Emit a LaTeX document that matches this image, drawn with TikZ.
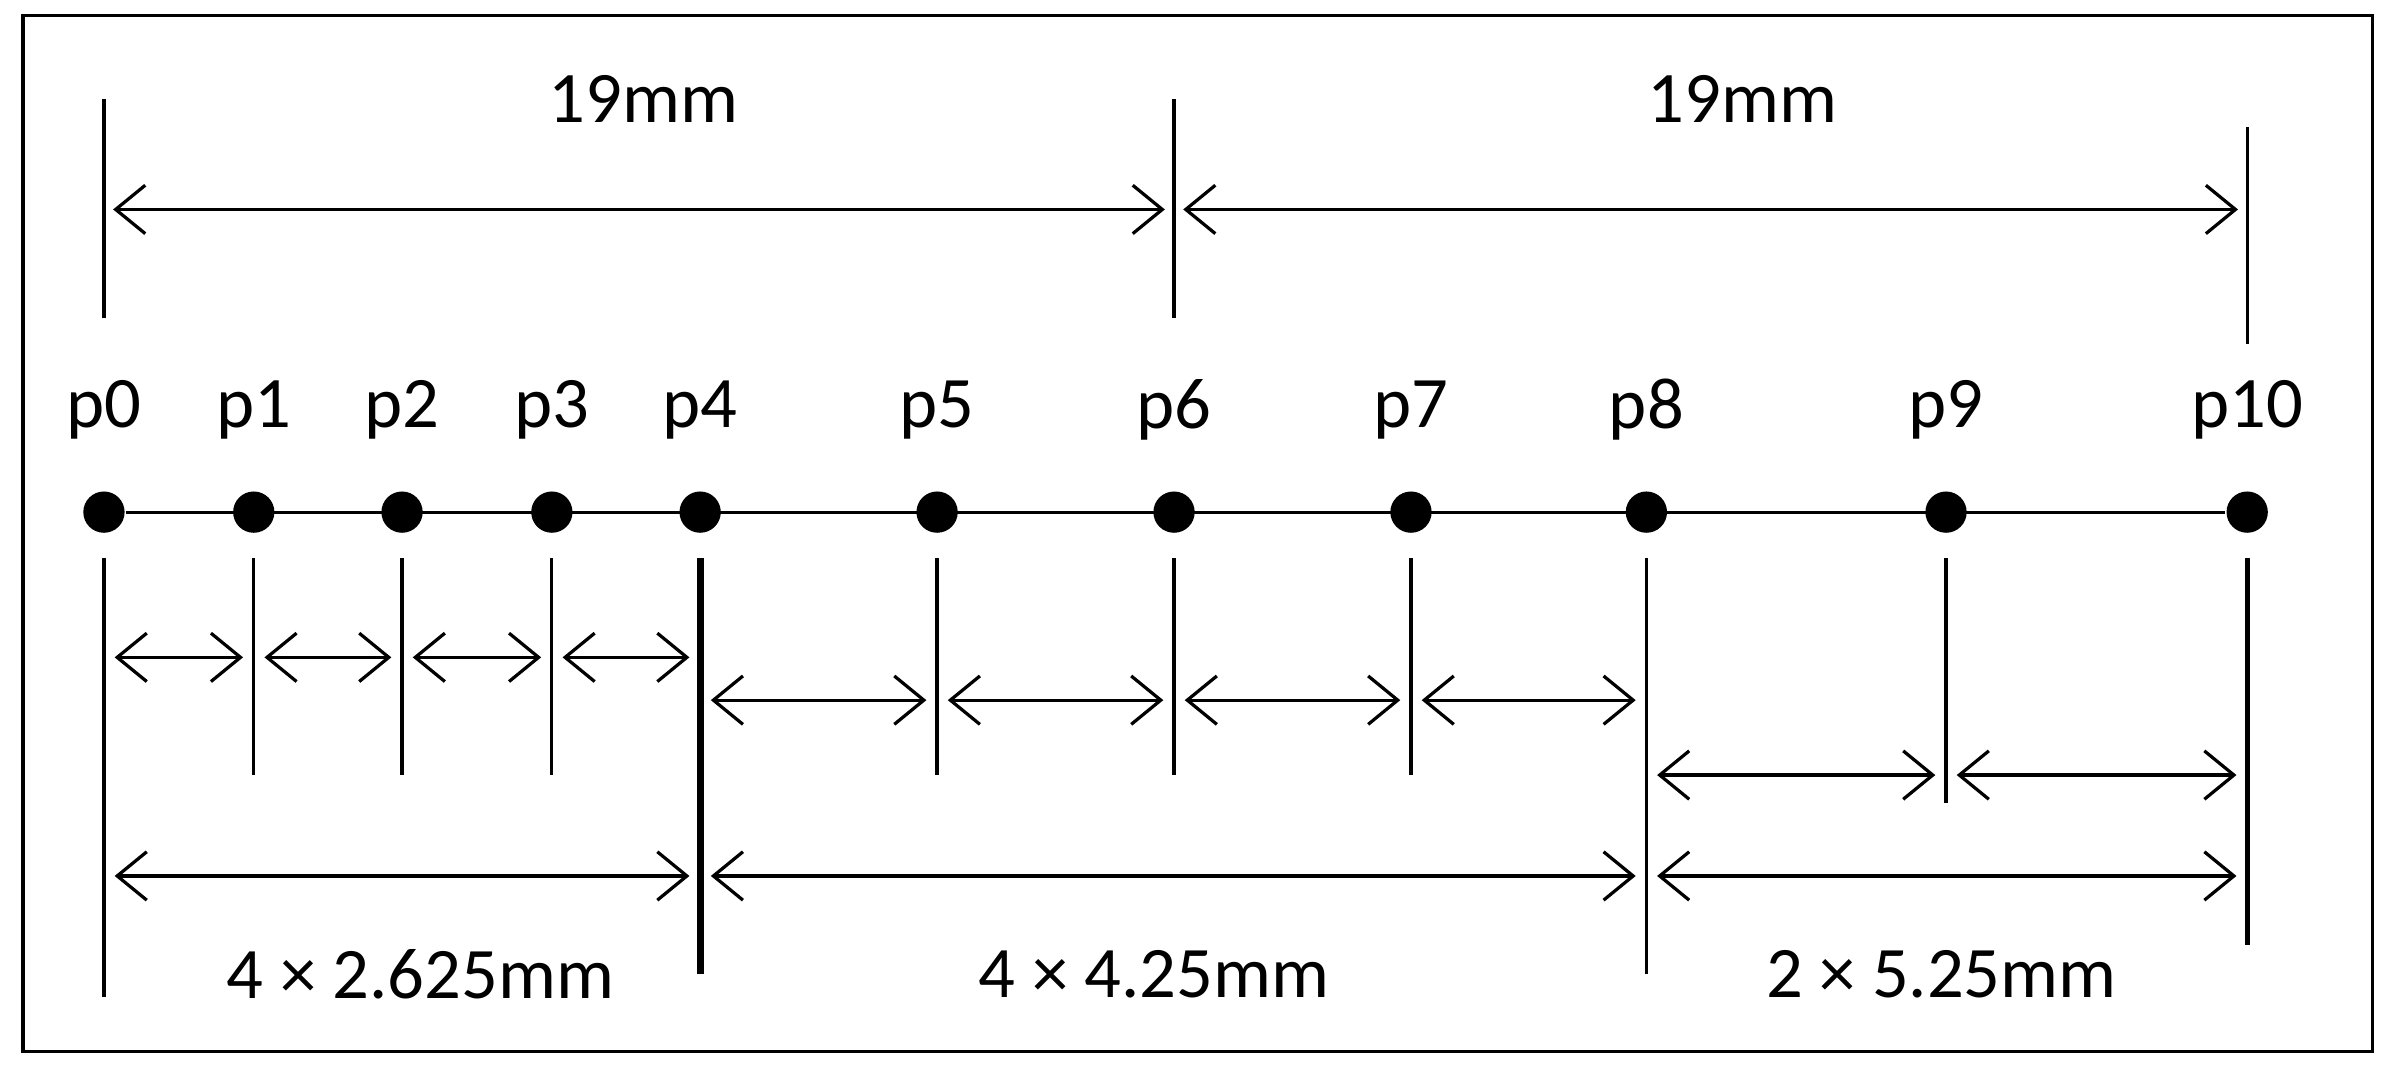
\documentclass[tikz,border=0pt]{standalone}
\usepackage{fontspec}
\setmainfont{Carlito}
\usetikzlibrary{arrows.meta}
\begin{document}
\begin{tikzpicture}[x={(0.01cm,0)},y={(0,-0.01cm)},
  ln/.style={line width=0.6pt},
  dim/.style={line width=0.6pt,{Straight Barb[length=5.5pt,width=9pt,line width=0.6pt]}-{Straight Barb[length=5.5pt,width=9pt,line width=0.6pt]}},
  dot/.style={circle,fill=black,inner sep=0pt,minimum size=0.27cm},
  lbl/.style={font=\fontsize{13.5pt}{15pt}\selectfont,inner sep=0pt}]
\useasboundingbox (0,0) rectangle (1568,702);
\draw[line width=0.6pt] (15,10) rectangle (1552,688);
% dots
\foreach \i/\x in {0/68,1/166,2/263,3/361,4/458,5/613,6/768,7/923,8/1077,9/1273,10/1470}{
  \node[dot] (d\i) at (\x,335) {};
  \node[lbl] (l\i) at (\x,268) {p\i};
}
\draw[ln] (d0) -- (d10);
% top
\coordinate (t0a) at (68,65); \coordinate (t0b) at (68,208);
\coordinate (t6a) at (768,65); \coordinate (t6b) at (768,208);
\coordinate (t10a) at (1470,83); \coordinate (t10b) at (1470,225);
\draw[ln] (t0a)--(t0b) (t6a)--(t6b) (t10a)--(t10b);
\coordinate (a1) at (74,137); \coordinate (a2) at (762,137);
\coordinate (a3) at (774,137); \coordinate (a4) at (1464,137);
\draw[dim] (a1)--(a2);
\draw[dim] (a3)--(a4);
\node[lbl] (m1) at (421,65) {19mm};
\node[lbl] (m2) at (1140,65) {19mm};
% lower verticals
\foreach \i/\x/\e/\w in {0/68/652/0.6pt,1/166/507/0.6pt,2/263/507/0.6pt,3/361/507/0.6pt,4/458/637/1.3pt,5/613/507/0.6pt,6/768/507/0.6pt,7/923/507/0.6pt,8/1077/637/0.6pt,9/1273/525/0.9pt,10/1470/618/0.9pt}{
  \coordinate (v\i a) at (\x,365); \coordinate (v\i b) at (\x,\e);
  \draw[line width=\w] (v\i a)--(v\i b);
}
% small arrows
\foreach \a/\b/\y in {68/166/430,166/263/430,263/361/430,361/458/430,458/613/458,613/768/458,768/923/458,923/1077/458,1077/1273/507,1273/1470/507}{
  \coordinate (s\a) at (\a+7,\y); \coordinate (e\a) at (\b-7,\y);
  \draw[dim] (s\a)--(e\a);
}
% big arrows
\foreach \a/\b in {68/458,458/1077,1077/1470}{
  \coordinate (bs\a) at (\a+7,573); \coordinate (be\a) at (\b-7,573);
  \draw[dim] (bs\a)--(be\a);
}
\node[lbl] (b1) at (275,637) {4 × 2.625mm};
\node[lbl] (b2) at (755,637) {4 × 4.25mm};
\node[lbl] (b3) at (1270,637) {2 × 5.25mm};
\end{tikzpicture}
\end{document}
